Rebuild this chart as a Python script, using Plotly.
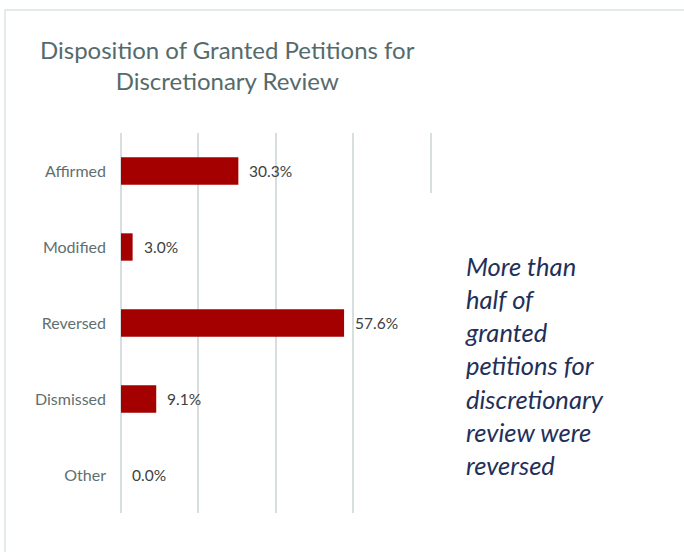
import plotly.graph_objects as go

categories = ["Affirmed", "Modified", "Reversed", "Dismissed", "Other"]
shares = [30.3, 3.0, 57.6, 9.1, 0.0]
labels = ["30.3%", "3.0%", "57.6%", "9.1%", "0.0%"]

title_text = "Disposition of Granted Petitions for<br>Discretionary Review"
callout = ("More than<br>half of<br>granted<br>petitions for<br>"
           "discretionary<br>review were<br>reversed")

fig = go.Figure()
fig.add_trace(go.Bar(
    x=shares,
    y=categories,
    orientation="h",
    marker=dict(color="#A50000", line=dict(width=0)),
    hoverinfo="skip",
))

# value labels just past the end of each bar
for cat, val, lab in zip(categories, shares, labels):
    fig.add_annotation(
        x=val, y=cat, text=lab, showarrow=False,
        xanchor="left", xshift=9,
        font=dict(family="Lato", size=15.5, color="#404040"),
    )

fig.add_annotation(
    xref="paper", yref="paper", x=0.341, y=1.179,
    text=title_text, showarrow=False, align="center",
    xanchor="center", yanchor="middle",
    font=dict(family="Lato", size=24, color="#556B6B"),
)

fig.add_annotation(
    xref="paper", yref="paper", x=1.10, y=0.389,
    text=callout, showarrow=False, align="left",
    xanchor="left", yanchor="middle",
    font=dict(family="Lato", size=25.5, color="#1F3059", style="italic"),
)

fig.update_layout(
    width=684, height=552,
    margin=dict(l=121, r=252, t=133, b=39),
    paper_bgcolor="white", plot_bgcolor="white",
    showlegend=False,
    bargap=0.64,
    shapes=[
        # outer frame
        dict(type="rect", xref="paper", yref="paper",
             x0=-0.373, x1=1.85, y0=-0.2, y1=1.3237,
             line=dict(color="#DCE3E3", width=1.5), layer="below"),
        # text box hides the last gridline below the first bar
        dict(type="rect", xref="x", yref="paper",
             x0=78.5, x1=82, y0=0, y1=0.842,
             fillcolor="white", line=dict(width=0), layer="above"),
    ],
)
fig.update_xaxes(
    range=[0, 80.3], tickvals=[0, 20, 40, 60, 80], showticklabels=False,
    showgrid=True, gridcolor="#D6DEE0", gridwidth=1.5,
    zeroline=True, zerolinecolor="#D6DEE0", zerolinewidth=1.5,
    showline=False, fixedrange=True,
)
fig.update_yaxes(
    autorange="reversed", showgrid=False, showline=False,
    ticks="", ticklabelstandoff=14,
    tickfont=dict(family="Lato", size=16, color="#5F6F70"),
)

# drop the browser's default body margin so the figure sits at 0,0
fig.write_html("out.html", config={"displayModeBar": False},
               post_script="document.body.style.margin='0';")
